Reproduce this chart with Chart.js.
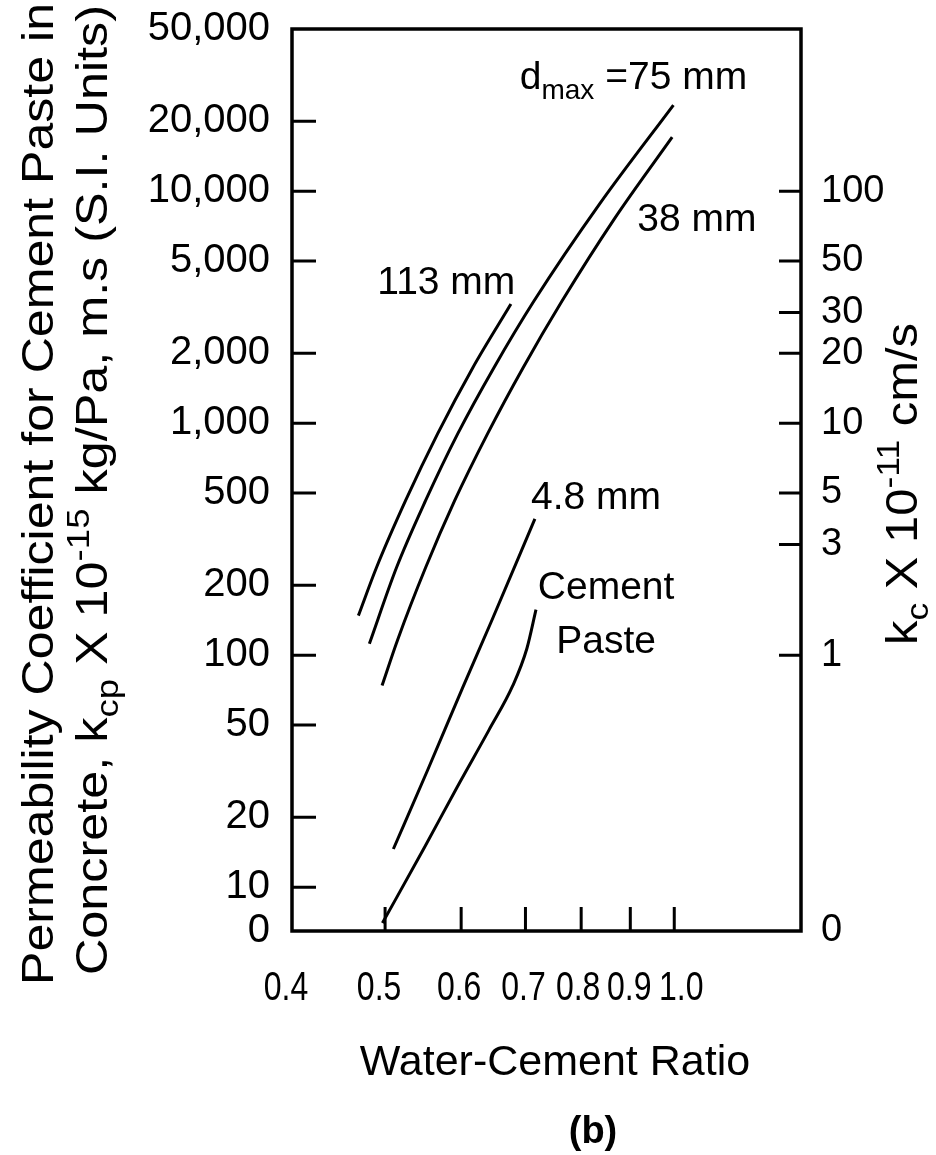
<!DOCTYPE html>
<html>
<head>
<meta charset="utf-8">
<title>Permeability of concrete vs water-cement ratio</title>
<script src="https://cdn.jsdelivr.net/npm/chart.js@4.4.1/dist/chart.umd.min.js"></script>
<style>
  html, body { margin: 0; padding: 0; background: #fff; }
  #wrap { width: 936px; height: 1155px; }
</style>
</head>
<body>
<div id="wrap"><canvas id="chart" width="936" height="1155"></canvas></div>
<script>
// water-cement ratio and k_cp (x 10^-15 kg/Pa.m.s) along each curve
const wc113 = [0.469, 0.4897, 0.5251, 0.5670, 0.6168, 0.676];
const kcp113 = [148, 238, 463, 899, 1730, 3260];

const wc75 = [0.4815, 0.5138, 0.5509, 0.5950, 0.6488, 0.7144, 0.8373, 0.998];
const kcp75 = [112, 238, 463, 899, 1730, 3360, 8880, 23500];

const wc38 = [0.4964, 0.5151, 0.5509, 0.5907, 0.6391, 0.6958, 0.7641, 0.8659, 0.995];
const kcp38 = [74, 116, 238, 463, 899, 1730, 3360, 7580, 17100];

const wc48 = [0.510, 0.5536, 0.6022, 0.6457, 0.716];
const kcp48 = [14.6, 31.9, 72.5, 141, 387];

const wcPaste = [0.4968, 0.5496, 0.5940, 0.6411, 0.6792, 0.7024, 0.7179];
const kcpPaste = [7.0, 14.85, 26.9, 47.4, 74.0, 106.8, 157];

// axes
const wcTicks = [0.4, 0.5, 0.6, 0.7, 0.8, 0.9, 1.0];
const wcTickLabels = ['0.4', '0.5', '0.6', '0.7', '0.8', '0.9', '1.0'];
const kcpTicks = [10, 20, 50, 100, 200, 500, 1000, 2000, 5000, 10000, 20000, 50000];
const kcpTickLabels = ['10', '20', '50', '100', '200', '500', '1,000', '2,000', '5,000', '10,000', '20,000', '50,000'];
const kcTicks = [1, 3, 5, 10, 20, 30, 50, 100];
const kcTickLabels = ['1', '3', '5', '10', '20', '30', '50', '100'];

const wcMin = 0.4, wcMax = 1.355;
const kcpMin = 6.47, kcpMax = 50000;
const kcPerKcp = 0.01;   // k_c (x 10^-11 cm/s) = k_cp / 100

const FAMILY = "'Liberation Sans', Arial, sans-serif";

Chart.defaults.color = '#000';
Chart.defaults.font.family = FAMILY;

const toPoints = (xs, ys) => xs.map((x, i) => ({ x: x, y: ys[i] }));

function curve(label, xs, ys) {
    return {
        label: label,
        data: toPoints(xs, ys),
        borderColor: '#000',
        borderWidth: 3,
        pointRadius: 0,
        fill: false,
        cubicInterpolationMode: 'monotone'
    };
}

// curve captions, anchored in data units
const curveLabels = [
    { parts: [{ t: 'd' }, { t: 'max', sub: true }, { t: ' =75 mm' }], wc: 0.6905, kcp: 27490, align: 'left' },
    { parts: [{ t: '38 mm' }], wc: 0.9153, kcp: 6726, align: 'left' },
    { parts: [{ t: '113 mm' }], wc: 0.4908, kcp: 3602, align: 'left' },
    { parts: [{ t: '4.8 mm' }], wc: 0.7094, kcp: 428, align: 'left' },
    { parts: [{ t: 'Cement' }], wc: 0.8493, kcp: 175, align: 'center' },
    { parts: [{ t: 'Paste' }], wc: 0.8493, kcp: 102.6, align: 'center' }
];

// text with sub/superscripts; fit stretches it to a length, sx squeezes it
function drawRich(ctx, parts, size, x, y, align, opts) {
    opts = opts || {};
    const weight = opts.bold ? 'bold ' : '';
    const fontOf = p => weight + Math.round((p.sub || p.sup) ? size * 0.72 : size) + 'px ' + FAMILY;
    let w = 0;
    parts.forEach(p => { ctx.font = fontOf(p); p.w = ctx.measureText(p.t).width; w += p.w; });
    ctx.save();
    ctx.translate(x, y);
    if (opts.rotate) ctx.rotate(opts.rotate);
    if (opts.fit) ctx.scale(opts.fit / w, 1);
    else if (opts.sx) ctx.scale(opts.sx, 1);
    let cx = align === 'center' ? -w / 2 : align === 'right' ? -w : 0;
    ctx.textBaseline = 'alphabetic';
    ctx.textAlign = 'left';
    ctx.fillStyle = '#000';
    parts.forEach(p => {
        ctx.font = fontOf(p);
        const dy = p.sub ? size * 0.26 : p.sup ? -size * 0.4 : 0;
        ctx.fillText(p.t, cx, dy);
        cx += p.w;
    });
    ctx.restore();
}

// small horizontal nudges so the crowded ratio labels stay apart
const wcLabelShift = [-6, -6, -2, -2, -3, -1, 7];

const framePlugin = {
    id: 'frameAndText',
    afterDraw(chart) {
        const ctx = chart.ctx;
        const a = chart.chartArea;
        const xs = chart.scales.x, ys = chart.scales.y, ys2 = chart.scales.y2;

        ctx.save();
        ctx.strokeStyle = '#000';
        ctx.lineCap = 'butt';

        // inward tick marks
        ctx.lineWidth = 3;
        ctx.beginPath();
        kcpTicks.filter(v => v < kcpMax).forEach(v => {
            const py = ys.getPixelForValue(v);
            ctx.moveTo(a.left, py); ctx.lineTo(a.left + 24, py);
        });
        kcTicks.forEach(v => {
            const py = ys2.getPixelForValue(v);
            ctx.moveTo(a.right, py); ctx.lineTo(a.right - 22, py);
        });
        wcTicks.filter(v => v > wcMin).forEach(v => {
            const px = xs.getPixelForValue(v);
            ctx.moveTo(px, a.bottom); ctx.lineTo(px, a.bottom - 24);
        });
        ctx.stroke();

        // frame
        ctx.lineWidth = 3.5;
        ctx.strokeRect(a.left, a.top, a.right - a.left, a.bottom - a.top);
        ctx.restore();

        // x tick labels, set in a condensed face
        wcTicks.forEach((v, i) => {
            drawRich(ctx, [{ t: wcTickLabels[i] }], 41, xs.getPixelForValue(v) + wcLabelShift[i], a.bottom + 69,
                'center', { sx: 0.78 });
        });

        // curve captions
        curveLabels.forEach(l => {
            drawRich(ctx, l.parts, 39, xs.getPixelForValue(l.wc), ys.getPixelForValue(l.kcp), l.align);
        });

        // left axis title, two rotated lines
        const rot = -Math.PI / 2;
        drawRich(ctx, [{ t: 'Permeability Coefficient for Cement Paste in' }],
            44, 53, 494, 'center', { rotate: rot, fit: 982 });
        drawRich(ctx, [
            { t: 'Concrete, k' }, { t: 'cp', sub: true }, { t: ' X 10' }, { t: '-15', sup: true },
            { t: ' kg/Pa, m.s (S.I. Units)' }
        ], 44, 107, 490, 'center', { rotate: rot, fit: 970 });

        // right axis title
        drawRich(ctx, [
            { t: 'k' }, { t: 'c', sub: true }, { t: ' X 10' }, { t: '-11', sup: true }, { t: ' cm/s' }
        ], 44, 917, 484, 'center', { rotate: rot, fit: 322 });

        // bottom axis title and panel tag
        drawRich(ctx, [{ t: 'Water-Cement Ratio' }], 43, 555, 1075, 'center');
        drawRich(ctx, [{ t: '(b)' }], 38, 593, 1143, 'center', { bold: true });
    }
};

// keep tick-label overhang from pushing the plot area around
const noPad = s => { s.paddingTop = 0; s.paddingBottom = 0; s.paddingLeft = 0; s.paddingRight = 0; };

new Chart(document.getElementById('chart'), {
    type: 'line',
    data: {
        datasets: [
            curve('113 mm', wc113, kcp113),
            curve('75 mm', wc75, kcp75),
            curve('38 mm', wc38, kcp38),
            curve('4.8 mm', wc48, kcp48),
            curve('Cement Paste', wcPaste, kcpPaste)
        ]
    },
    options: {
        responsive: false,
        animation: false,
        devicePixelRatio: 1,
        layout: { padding: { top: 29, left: 0, right: 0, bottom: 0 } },
        plugins: {
            legend: { display: false },
            tooltip: { enabled: false }
        },
        scales: {
            x: {
                type: 'logarithmic',
                position: 'bottom',
                min: wcMin,
                max: wcMax,
                grid: { display: false, drawTicks: false },
                border: { display: false },
                afterBuildTicks: s => { s.ticks = wcTicks.map(v => ({ value: v })); },
                afterFit: s => { s.height = 224; noPad(s); },
                ticks: { display: false }
            },
            y: {
                type: 'logarithmic',
                position: 'left',
                min: kcpMin,
                max: kcpMax,
                grid: { display: false, drawTicks: false },
                border: { display: false },
                afterBuildTicks: s => { s.ticks = [kcpMin].concat(kcpTicks).map(v => ({ value: v })); },
                afterFit: s => { s.width = 292; noPad(s); },
                ticks: {
                    autoSkip: false,
                    padding: 22,
                    font: { size: 40 },
                    callback: (v, i) => ['0'].concat(kcpTickLabels)[i]
                }
            },
            y2: {
                type: 'logarithmic',
                position: 'right',
                min: kcpMin * kcPerKcp,
                max: kcpMax * kcPerKcp,
                grid: { display: false, drawTicks: false },
                border: { display: false },
                afterBuildTicks: s => { s.ticks = [kcpMin * kcPerKcp].concat(kcTicks).map(v => ({ value: v })); },
                afterFit: s => { s.width = 135; noPad(s); },
                ticks: {
                    autoSkip: false,
                    padding: 20,
                    font: { size: 38 },
                    callback: (v, i) => ['0'].concat(kcTickLabels)[i]
                }
            }
        }
    },
    plugins: [framePlugin]
});
</script>
</body>
</html>
